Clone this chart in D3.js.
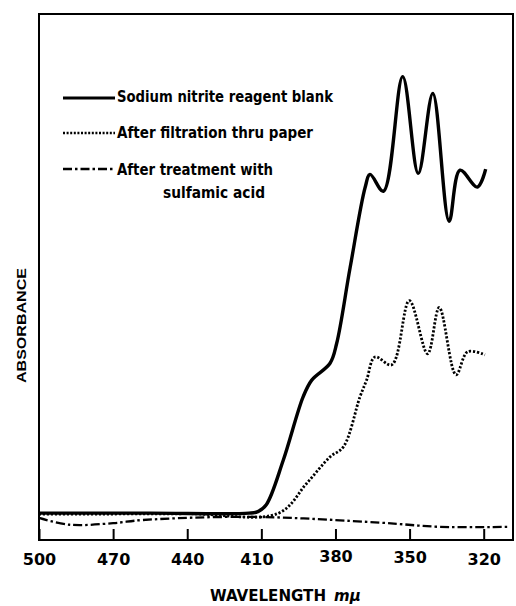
<!DOCTYPE html>
<html>
<head>
<meta charset="utf-8">
<script src="https://cdnjs.cloudflare.com/ajax/libs/d3/7.8.5/d3.min.js"></script>
<style>
  html, body { margin: 0; padding: 0; background: #fff; }
  svg { display: block; }
</style>
</head>
<body>
<svg id="chart" width="516" height="606"></svg>
<script>
// wavelengths (m\u03bc) and absorbance (arbitrary units)
const blankWl  = [500, 455, 415, 411.4, 408, 401.1, 393.1, 389.6, 382.2, 379.5, 374.1, 368, 366, 360.6, 352.8, 346.5, 340.6, 334, 329.6, 322.6, 319.2];
const blankAbs = [0.051, 0.051, 0.051, 0.054, 0.067, 0.152, 0.272, 0.304, 0.336, 0.374, 0.517, 0.670, 0.695, 0.663, 0.881, 0.697, 0.849, 0.606, 0.703, 0.671, 0.705];

const paperWl  = [500, 440, 403, 391.6, 382.2, 376.8, 370.1, 367.4, 364, 357.2, 350.1, 342.7, 338, 331.2, 326.5, 319.5];
const paperAbs = [0.049, 0.050, 0.051, 0.108, 0.158, 0.177, 0.272, 0.304, 0.348, 0.333, 0.455, 0.354, 0.442, 0.314, 0.358, 0.352];

const sulfWl   = [500, 487.5, 470, 458, 414.6, 362, 337.7, 310.2];
const sulfAbs  = [0.042, 0.029, 0.032, 0.038, 0.044, 0.033, 0.025, 0.025];

const tickLabels = [500, 470, 440, 410, 380, 350, 320];
const legendLabels = ["Sodium nitrite reagent blank", "After filtration thru paper", "After treatment with", "sulfamic acid"];

const svg = d3.select('#chart');
const plotLeft = 39, plotRight = 513, plotTop = 14, plotBottom = 540;

const x = d3.scaleLinear().domain([500, 320]).range([39, 483.7]);
const y = d3.scaleLinear().domain([0, 1]).range([plotBottom, plotTop]);

const font = '"DejaVu Sans", sans-serif';

// frame
svg.append('rect')
  .attr('x', plotLeft).attr('y', plotTop)
  .attr('width', plotRight - plotLeft).attr('height', plotBottom - plotTop)
  .attr('fill', 'none').attr('stroke', '#000').attr('stroke-width', 2);

// x axis with inward ticks
const labelShift = { 410: [-5, 0], 380: [0, -3], 350: [0, -2] };
const xAxis = svg.append('g')
  .attr('transform', `translate(0,${plotBottom})`)
  .call(d3.axisBottom(x).tickValues(tickLabels).tickSizeInner(-11).tickSizeOuter(0).tickPadding(14));
xAxis.select('.domain').remove();
xAxis.selectAll('line').attr('stroke', '#000').attr('stroke-width', 2);
xAxis.selectAll('text')
  .attr('fill', '#000')
  .style('font-family', font).style('font-weight', 'bold').style('font-size', '16px')
  .attr('dx', d => (labelShift[d] || [0, 0])[0])
  .attr('y', d => 14 + (labelShift[d] || [0, 0])[1]);

// axis titles
svg.append('text')
  .attr('x', 210).attr('y', 601)
  .attr('textLength', 116).attr('lengthAdjust', 'spacingAndGlyphs')
  .style('font-family', font).style('font-weight', 'bold').style('font-size', '16px')
  .text('WAVELENGTH');
svg.append('text')
  .attr('x', 334).attr('y', 601)
  .style('font-family', font).style('font-weight', 'bold').style('font-style', 'italic').style('font-size', '15px')
  .text('m\u03bc');

svg.append('text')
  .attr('transform', 'translate(26,383) rotate(-90)')
  .attr('textLength', 115).attr('lengthAdjust', 'spacingAndGlyphs')
  .style('font-family', '"Liberation Sans", Arial, sans-serif')
  .style('font-weight', 'bold').style('font-size', '12px')
  .text('ABSORBANCE');

// curves
const line = d3.line()
  .x(d => x(d[0]))
  .y(d => y(d[1]))
  .curve(d3.curveCatmullRom.alpha(0.5));

const series = [
  { wl: blankWl, abs: blankAbs, width: 3.4, dash: null },
  { wl: paperWl, abs: paperAbs, width: 2.8, dash: '2.2,1.8' },
  { wl: sulfWl, abs: sulfAbs, width: 2.3, dash: '9,3,2.5,3' }
];

series.forEach(s => {
  svg.append('path')
    .datum(d3.zip(s.wl, s.abs))
    .attr('d', line)
    .attr('fill', 'none')
    .attr('stroke', '#000')
    .attr('stroke-width', s.width)
    .attr('stroke-dasharray', s.dash);
});

// legend
const legendRows = [
  { y: 98, ty: 102, width: 3.2, dash: null, text: legendLabels[0], len: 216 },
  { y: 133, ty: 138, width: 2.4, dash: '2,1.6', text: legendLabels[1], len: 196 },
  { y: 169, ty: 175, width: 2.3, dash: '9,3,2.5,3', text: legendLabels[2], len: 156 }
];
legendRows.forEach(r => {
  svg.append('line')
    .attr('x1', 63).attr('x2', 115).attr('y1', r.y).attr('y2', r.y)
    .attr('stroke', '#000').attr('stroke-width', r.width)
    .attr('stroke-dasharray', r.dash);
  svg.append('text')
    .attr('x', 117).attr('y', r.ty)
    .attr('textLength', r.len).attr('lengthAdjust', 'spacingAndGlyphs')
    .style('font-family', font).style('font-weight', 'bold').style('font-size', '16px')
    .text(r.text);
});
svg.append('text')
  .attr('x', 163).attr('y', 198)
  .attr('textLength', 102).attr('lengthAdjust', 'spacingAndGlyphs')
  .style('font-family', font).style('font-weight', 'bold').style('font-size', '16px')
  .text(legendLabels[3]);
</script>
</body>
</html>
